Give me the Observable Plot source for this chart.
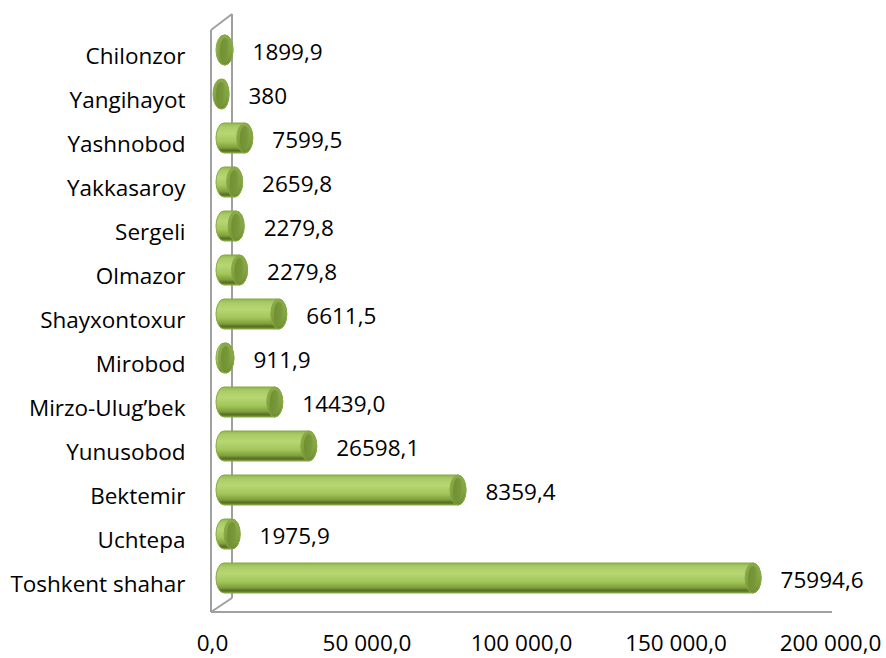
<!DOCTYPE html>
<html><head><meta charset="utf-8">
<script src="https://cdn.jsdelivr.net/npm/d3@7"></script>
<script src="https://cdn.jsdelivr.net/npm/@observablehq/plot@0.6"></script>
<style>
html,body{margin:0;padding:0;background:#fff;}
#chart{width:886px;height:658px;}
</style>
</head><body><div id="chart"></div>
<script>
const districts = ["Chilonzor","Yangihayot","Yashnobod","Yakkasaroy","Sergeli","Olmazor","Shayxontoxur","Mirobod","Mirzo-Ulug\u2019bek","Yunusobod","Bektemir","Uchtepa","Toshkent shahar"];
// bar lengths as drawn in the picture (axis units)
const barValues = [6800, 5500, 13200, 9900, 10400, 11500, 24200, 7100, 22900, 33900, 82200, 9100, 177700];
// data labels as printed in the picture
const valueLabels = ["1899,9","380","7599,5","2659,8","2279,8","2279,8","6611,5","911,9","14439,0","26598,1","8359,4","1975,9","75994,6"];
const xTicks = [0, 50000, 100000, 150000, 200000];

const data = districts.map((d, i) => ({district: d, value: barValues[i], label: valueLabels[i]}));
const loc = d3.formatLocale({decimal: ",", thousands: " ", grouping: [3]});
const fmt = loc.format(",.1f");
const FONT = "'Open Sans', 'Noto Sans', sans-serif";

const plot = Plot.plot({
  width: 886,
  height: 658,
  marginLeft: 212,
  marginRight: 56,
  marginTop: 17.5,
  marginBottom: 47.5,
  style: {fontFamily: FONT, fontSize: "22.5px", color: "#000", background: "#fff", overflow: "visible"},
  x: {domain: [0, 200000], ticks: xTicks, tickFormat: fmt, tickSize: 0, tickPadding: 24, label: null},
  y: {domain: districts, padding: 0.326, label: null, axis: null},
  marks: [
    Plot.axisY({tickSize: 0, tickPadding: 27, dy: 6, fontSize: 22.5, label: null}),
    // cylinder body
    Plot.barX(data, {x1: 0, x2: "value", y: "district", insetLeft: 4, rx: 8, ry: 15,
      fill: "url(#cylBody)", stroke: "#86a845", strokeWidth: 1}),
    // end cap outer ellipse
    Plot.barX(data, {x1: "value", x2: "value", y: "district", insetLeft: -16, rx: 8, ry: 15,
      fill: "url(#capOuter)", stroke: "#86a845", strokeWidth: 1}),
    // end cap inner ellipse
    Plot.barX(data, {x1: "value", x2: "value", y: "district", insetLeft: -13, insetRight: 3, insetTop: 3, insetBottom: 3, rx: 5, ry: 12,
      fill: "url(#capInner)"}),
    // value labels
    Plot.text(data, {x: "value", y: "district", text: "label", textAnchor: "start", dx: 19, dy: 2,
      fontSize: 22.5, fill: "#000"})
  ]
});

const svg = d3.select(plot);
const defs = svg.insert("defs", ":first-child");
const g1 = defs.append("linearGradient").attr("id", "cylBody").attr("x1", 0).attr("y1", 0).attr("x2", 0).attr("y2", 1);
[["0%", "#93b64e"], ["12%", "#a9cb65"], ["35%", "#b6d672"], ["62%", "#a3c65c"], ["82%", "#7f9f3b"], ["92%", "#566f22"], ["100%", "#7d9a3e"]]
  .forEach(([o, c]) => g1.append("stop").attr("offset", o).attr("stop-color", c));
const g2 = defs.append("linearGradient").attr("id", "capOuter").attr("x1", 0).attr("y1", 0).attr("x2", 0).attr("y2", 1);
[["0%", "#8aab48"], ["50%", "#84a543"], ["100%", "#6e8d32"]]
  .forEach(([o, c]) => g2.append("stop").attr("offset", o).attr("stop-color", c));
const g3 = defs.append("linearGradient").attr("id", "capInner").attr("x1", 0).attr("y1", 0).attr("x2", 1).attr("y2", 0);
[["0%", "#6f8f30"], ["70%", "#78983a"], ["100%", "#86a546"]]
  .forEach(([o, c]) => g3.append("stop").attr("offset", o).attr("stop-color", c));

// 3D frame lines derived from the scales
const xs = plot.scale("x"), ys = plot.scale("y");
const x0 = xs.apply(0) - 1, xEnd = xs.apply(200000) + 2;
const yBottom = ys.range[1] + 1.5, yTop = ys.range[0] + 12.5;
const ddx = 21, ddy = -14;
const frame = svg.insert("g", "g[aria-label='bar']").attr("stroke", "#a0a0a0").attr("stroke-width", 2).attr("fill", "none");
frame.append("line").attr("x1", x0 + ddx).attr("y1", yTop + ddy - 2).attr("x2", x0 + ddx).attr("y2", yBottom + ddy);
frame.append("line").attr("x1", x0).attr("y1", yTop).attr("x2", x0).attr("y2", yBottom);
frame.append("line").attr("x1", x0).attr("y1", yTop).attr("x2", x0 + ddx).attr("y2", yTop + ddy - 2);
frame.append("line").attr("x1", x0).attr("y1", yBottom).attr("x2", x0 + ddx).attr("y2", yBottom + ddy);
frame.append("line").attr("x1", x0).attr("y1", yBottom).attr("x2", xEnd).attr("y2", yBottom);

document.getElementById("chart").appendChild(plot);
</script>
</body></html>
